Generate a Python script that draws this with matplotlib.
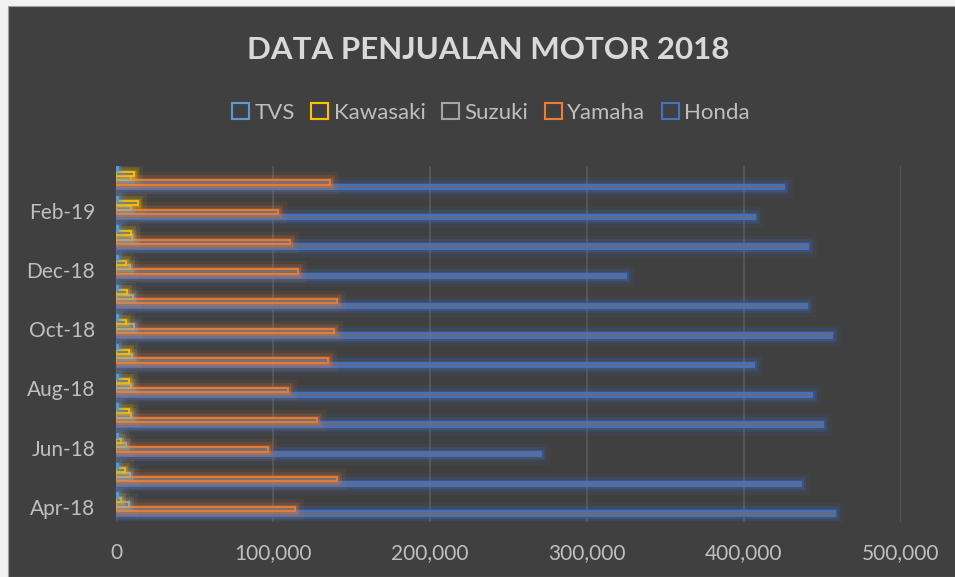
import numpy as np
import matplotlib
matplotlib.use('Agg')
import matplotlib.pyplot as plt
import matplotlib.patheffects as pe
from matplotlib.patches import Patch, Rectangle
from matplotlib.ticker import FuncFormatter

# monthly sales, Apr-18 .. Mar-19
months = ['Apr-18', 'May-18', 'Jun-18', 'Jul-18', 'Aug-18', 'Sep-18',
          'Oct-18', 'Nov-18', 'Dec-18', 'Jan-19', 'Feb-19', 'Mar-19']
honda = [458000, 436000, 271000, 450000, 443000, 406500,
         455800, 440000, 325000, 440500, 407000, 425500]
yamaha = [113800, 140600, 96800, 127800, 109800, 134800,
          138700, 141000, 115700, 110600, 103000, 136000]
suzuki = [8000, 8700, 6200, 9500, 9300, 10400,
          11700, 11000, 9000, 10000, 9500, 9300]
kawasaki = [3200, 5700, 3200, 8000, 8000, 8000,
            6200, 7000, 6200, 9600, 14000, 11300]
tvs = [1100, 1200, 1000, 1300, 1200, 1100,
       1200, 1300, 1100, 1000, 1400, 1300]

series_names = ['Honda', 'Yamaha', 'Suzuki', 'Kawasaki', 'TVS']
series_vals = [honda, yamaha, suzuki, kawasaki, tvs]
colors = ['#4472C4', '#ED7D31', '#A5A5A5', '#FFC000', '#5B9BD5']

BG = '#404040'
TXT = '#BFBFBF'
FONT = 'Lato'

fig = plt.figure(figsize=(9.55, 5.77), dpi=100)
fig.patch.set_facecolor('#F2F2F2')
# dark chart area (screenshot has a thin light border top/left)
fig.patches.append(Rectangle((8 / 955, 0), 1, 1 - 6 / 577, transform=fig.transFigure,
                             facecolor=BG, edgecolor='#A0A0A0', linewidth=0.8, zorder=-10))

ax = fig.add_axes([116 / 955, 1 - 522 / 577, 785 / 955, 356 / 577])
ax.set_facecolor(BG)

y = np.arange(len(months))
h = 0.15
for i, (name, vals, c) in enumerate(zip(series_names, series_vals, colors)):
    off = (i - 2) * h + 0.09
    bars = ax.barh(y + off, vals, height=h * 0.95, facecolor=c, edgecolor=c,
                   linewidth=1.3, zorder=3)
    for b in bars:
        b.set_facecolor((0.45, 0.45, 0.5, 0.6))
        # soft glow around each bar
        b.set_path_effects([
            pe.Stroke(linewidth=12, foreground=c, alpha=0.08),
            pe.Stroke(linewidth=7, foreground=c, alpha=0.16),
            pe.Stroke(linewidth=3.5, foreground=c, alpha=0.25),
            pe.Normal()])

ax.set_xlim(0, 500000)
ax.set_ylim(-0.5, len(months) - 0.5)
ax.set_xticks(np.arange(0, 500001, 100000))
ax.xaxis.set_major_formatter(FuncFormatter(lambda v, p: f'{int(v):,}'))
ax.set_yticks(y[::2])
ax.set_yticklabels(months[::2])
ax.grid(axis='x', color='#5A5A5A', linewidth=1.2, zorder=0)
ax.set_axisbelow(True)
for s in ax.spines.values():
    s.set_visible(False)
ax.tick_params(axis='both', length=0, colors=TXT, labelsize=15)
ax.tick_params(axis='x', pad=15)
ax.tick_params(axis='y', pad=15)
for lab in ax.get_xticklabels() + ax.get_yticklabels():
    lab.set_fontfamily(FONT)

fig.text(488 / 955, 1 - 50 / 577, 'DATA PENJUALAN MOTOR 2018', ha='center', va='center',
         fontsize=22.5, fontweight='bold', color='#D9D9D9', family=FONT)

order = [4, 3, 2, 1, 0]
handles = [Patch(facecolor='none', edgecolor=colors[k], linewidth=1.5) for k in order]
labels = [series_names[k] for k in order]
leg = fig.legend(handles, labels, loc='center', bbox_to_anchor=(491 / 955, 1 - 113 / 577),
                 ncol=5, frameon=False, handlelength=0.75, handleheight=0.75,
                 handletextpad=0.25, columnspacing=0.75,
                 prop={'family': FONT, 'size': 16})
for t in leg.get_texts():
    t.set_color(TXT)

fig.savefig('out.png', dpi=100, facecolor=fig.get_facecolor())
